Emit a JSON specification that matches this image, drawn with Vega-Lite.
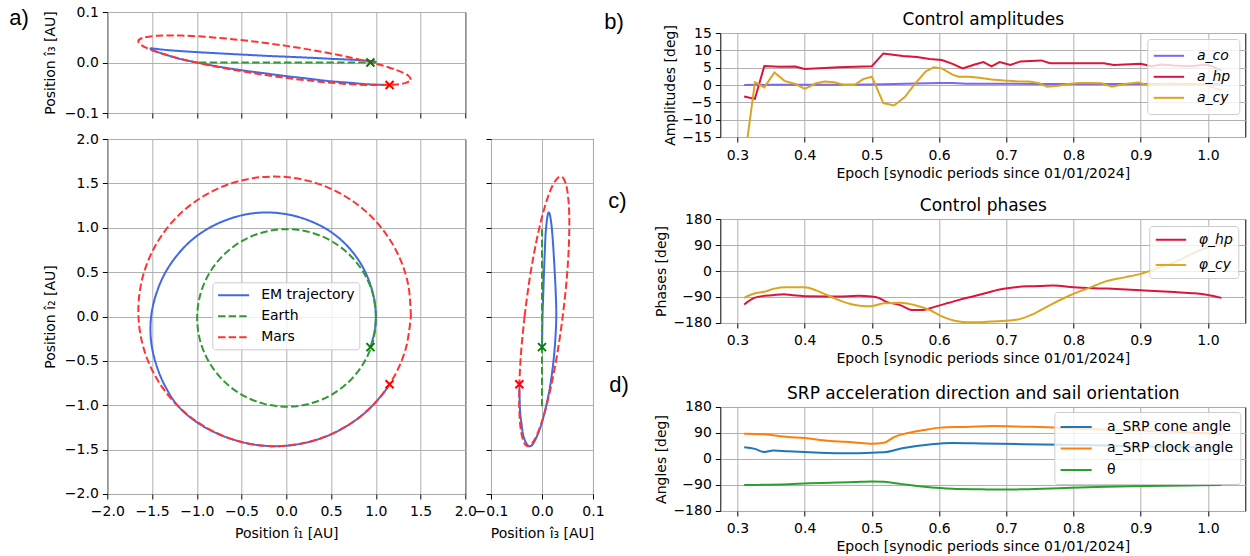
{
"$schema":"https://vega.github.io/schema/vega-lite/v6.json",
"padding":{"left":9.3,"top":4,"right":2,"bottom":2},
"title":{"text":"a)","dx":-98,"dy":29},
"datasets":{
"orb":[
{"b":"EM trajectory","i":0,"x":0.940,"y":-0.342,"z":0},
{"b":"EM trajectory","i":1,"x":0.985,"y":-0.174,"z":0.0005},
{"b":"EM trajectory","i":2,"x":1.000,"y":0.000,"z":0.001},
{"b":"EM trajectory","i":3,"x":0.986,"y":0.174,"z":0.002},
{"b":"EM trajectory","i":4,"x":0.944,"y":0.344,"z":0.003},
{"b":"EM trajectory","i":5,"x":0.879,"y":0.508,"z":0.004},
{"b":"EM trajectory","i":6,"x":0.789,"y":0.662,"z":0.005},
{"b":"EM trajectory","i":7,"x":0.674,"y":0.803,"z":0.006},
{"b":"EM trajectory","i":8,"x":0.535,"y":0.927,"z":0.007},
{"b":"EM trajectory","i":9,"x":0.374,"y":1.027,"z":0.0085},
{"b":"EM trajectory","i":10,"x":0.194,"y":1.103,"z":0.010},
{"b":"EM trajectory","i":11,"x":0.000,"y":1.153,"z":0.0115},
{"b":"EM trajectory","i":12,"x":-0.207,"y":1.172,"z":0.013},
{"b":"EM trajectory","i":13,"x":-0.421,"y":1.156,"z":0.015},
{"b":"EM trajectory","i":14,"x":-0.635,"y":1.100,"z":0.017},
{"b":"EM trajectory","i":15,"x":-0.845,"y":1.007,"z":0.019},
{"b":"EM trajectory","i":16,"x":-1.042,"y":0.874,"z":0.021},
{"b":"EM trajectory","i":17,"x":-1.212,"y":0.700,"z":0.023},
{"b":"EM trajectory","i":18,"x":-1.353,"y":0.492,"z":0.025},
{"b":"EM trajectory","i":19,"x":-1.453,"y":0.256,"z":0.027},
{"b":"EM trajectory","i":20,"x":-1.510,"y":0.000,"z":0.028},
{"b":"EM trajectory","i":21,"x":-1.512,"y":-0.267,"z":0.026},
{"b":"EM trajectory","i":22,"x":-1.457,"y":-0.530,"z":0.022},
{"b":"EM trajectory","i":23,"x":-1.355,"y":-0.783,"z":0.016},
{"b":"EM trajectory","i":24,"x":-1.207,"y":-1.012,"z":0.008},
{"b":"EM trajectory","i":25,"x":-1.000,"y":-1.191,"z":0.000},
{"b":"EM trajectory","i":26,"x":-0.763,"y":-1.322,"z":-0.008},
{"b":"EM trajectory","i":27,"x":-0.513,"y":-1.410,"z":-0.015},
{"b":"EM trajectory","i":28,"x":-0.257,"y":-1.456,"z":-0.021},
{"b":"EM trajectory","i":29,"x":0.000,"y":-1.456,"z":-0.027},
{"b":"EM trajectory","i":30,"x":0.249,"y":-1.414,"z":-0.032},
{"b":"EM trajectory","i":31,"x":0.486,"y":-1.334,"z":-0.037},
{"b":"EM trajectory","i":32,"x":0.703,"y":-1.217,"z":-0.040},
{"b":"EM trajectory","i":33,"x":0.897,"y":-1.069,"z":-0.043},
{"b":"EM trajectory","i":34,"x":1.062,"y":-0.892,"z":-0.044},
{"b":"EM trajectory","i":35,"x":1.154,"y":-0.764,"z":-0.0444},
{"b":"Earth","i":0,"x":1.004,"y":-0.016,"z":0},
{"b":"Earth","i":1,"x":0.970,"y":0.243,"z":0},
{"b":"Earth","i":2,"x":0.870,"y":0.484,"z":0},
{"b":"Earth","i":3,"x":0.711,"y":0.691,"z":0},
{"b":"Earth","i":4,"x":0.504,"y":0.850,"z":0},
{"b":"Earth","i":5,"x":0.263,"y":0.950,"z":0},
{"b":"Earth","i":6,"x":0.004,"y":0.984,"z":0},
{"b":"Earth","i":7,"x":-0.255,"y":0.950,"z":0},
{"b":"Earth","i":8,"x":-0.496,"y":0.850,"z":0},
{"b":"Earth","i":9,"x":-0.703,"y":0.691,"z":0},
{"b":"Earth","i":10,"x":-0.862,"y":0.484,"z":0},
{"b":"Earth","i":11,"x":-0.962,"y":0.243,"z":0},
{"b":"Earth","i":12,"x":-0.996,"y":-0.016,"z":0},
{"b":"Earth","i":13,"x":-0.962,"y":-0.275,"z":0},
{"b":"Earth","i":14,"x":-0.862,"y":-0.516,"z":0},
{"b":"Earth","i":15,"x":-0.703,"y":-0.723,"z":0},
{"b":"Earth","i":16,"x":-0.496,"y":-0.882,"z":0},
{"b":"Earth","i":17,"x":-0.255,"y":-0.982,"z":0},
{"b":"Earth","i":18,"x":0.004,"y":-1.016,"z":0},
{"b":"Earth","i":19,"x":0.263,"y":-0.982,"z":0},
{"b":"Earth","i":20,"x":0.504,"y":-0.882,"z":0},
{"b":"Earth","i":21,"x":0.711,"y":-0.723,"z":0},
{"b":"Earth","i":22,"x":0.870,"y":-0.516,"z":0},
{"b":"Earth","i":23,"x":0.970,"y":-0.275,"z":0},
{"b":"Earth","i":24,"x":1.004,"y":-0.016,"z":0},
{"b":"Mars","i":0,"x":1.392,"y":0.000,"z":-0.0342},
{"b":"Mars","i":1,"x":1.361,"y":0.365,"z":-0.0258},
{"b":"Mars","i":2,"x":1.241,"y":0.716,"z":-0.0155},
{"b":"Mars","i":3,"x":1.034,"y":1.034,"z":-0.0038},
{"b":"Mars","i":4,"x":0.748,"y":1.296,"z":0.0087},
{"b":"Mars","i":5,"x":0.397,"y":1.481,"z":0.0212},
{"b":"Mars","i":6,"x":0.000,"y":1.571,"z":0.0329},
{"b":"Mars","i":7,"x":-0.416,"y":1.551,"z":0.0427},
{"b":"Mars","i":8,"x":-0.817,"y":1.416,"z":0.0497},
{"b":"Mars","i":9,"x":-1.171,"y":1.171,"z":0.0533},
{"b":"Mars","i":10,"x":-1.443,"y":0.833,"z":0.0529},
{"b":"Mars","i":11,"x":-1.608,"y":0.431,"z":0.0486},
{"b":"Mars","i":12,"x":-1.652,"y":0.000,"z":0.0406},
{"b":"Mars","i":13,"x":-1.574,"y":-0.422,"z":0.0299},
{"b":"Mars","i":14,"x":-1.385,"y":-0.799,"z":0.0173},
{"b":"Mars","i":15,"x":-1.105,"y":-1.105,"z":0.0041},
{"b":"Mars","i":16,"x":-0.763,"y":-1.321,"z":-0.0089},
{"b":"Mars","i":17,"x":-0.385,"y":-1.439,"z":-0.0206},
{"b":"Mars","i":18,"x":0.000,"y":-1.456,"z":-0.0305},
{"b":"Mars","i":19,"x":0.369,"y":-1.378,"z":-0.0379},
{"b":"Mars","i":20,"x":0.702,"y":-1.217,"z":-0.0428},
{"b":"Mars","i":21,"x":0.983,"y":-0.983,"z":-0.0447},
{"b":"Mars","i":22,"x":1.197,"y":-0.691,"z":-0.0439},
{"b":"Mars","i":23,"x":1.336,"y":-0.358,"z":-0.0404},
{"b":"Mars","i":24,"x":1.392,"y":0.000,"z":-0.0342}
],
"mk":[
{"b":"Earth","x":0.94,"y":-0.345,"z":0},
{"b":"Mars","x":1.154,"y":-0.764,"z":-0.0444}
],
"amp":[
{"s":"a_co","t":0.31,"v":0},{"s":"a_co","t":0.35,"v":0.05},{"s":"a_co","t":0.4,"v":0.1},{"s":"a_co","t":0.45,"v":0.1},{"s":"a_co","t":0.5,"v":0.15},{"s":"a_co","t":0.55,"v":0.35},{"s":"a_co","t":0.6,"v":0.6},{"s":"a_co","t":0.62,"v":0.55},{"s":"a_co","t":0.64,"v":0.35},{"s":"a_co","t":0.7,"v":0.35},{"s":"a_co","t":0.75,"v":0.3},{"s":"a_co","t":0.8,"v":0.3},{"s":"a_co","t":0.85,"v":0.3},{"s":"a_co","t":0.9,"v":0.3},{"s":"a_co","t":0.95,"v":0.3},{"s":"a_co","t":1.0,"v":0.25},{"s":"a_co","t":1.02,"v":0.2},
{"s":"a_hp","t":0.31,"v":-3.3},{"s":"a_hp","t":0.326,"v":-4.0},{"s":"a_hp","t":0.34,"v":5.5},{"s":"a_hp","t":0.362,"v":5.3},{"s":"a_hp","t":0.386,"v":5.35},{"s":"a_hp","t":0.4,"v":4.6},{"s":"a_hp","t":0.451,"v":5.1},{"s":"a_hp","t":0.5,"v":5.4},{"s":"a_hp","t":0.517,"v":9.1},{"s":"a_hp","t":0.546,"v":8.4},{"s":"a_hp","t":0.567,"v":8.1},{"s":"a_hp","t":0.586,"v":7.5},{"s":"a_hp","t":0.604,"v":7.2},{"s":"a_hp","t":0.62,"v":6.1},{"s":"a_hp","t":0.635,"v":4.8},{"s":"a_hp","t":0.653,"v":5.9},{"s":"a_hp","t":0.666,"v":6.6},{"s":"a_hp","t":0.678,"v":5.4},{"s":"a_hp","t":0.69,"v":6.6},{"s":"a_hp","t":0.706,"v":5.8},{"s":"a_hp","t":0.721,"v":6.8},{"s":"a_hp","t":0.752,"v":7.1},{"s":"a_hp","t":0.765,"v":6.3},{"s":"a_hp","t":0.789,"v":6.3},{"s":"a_hp","t":0.845,"v":6.3},{"s":"a_hp","t":0.86,"v":5.8},{"s":"a_hp","t":0.9,"v":6.1},{"s":"a_hp","t":0.916,"v":5.4},{"s":"a_hp","t":0.931,"v":5.9},{"s":"a_hp","t":0.95,"v":5.6},{"s":"a_hp","t":0.974,"v":5.4},{"s":"a_hp","t":0.999,"v":5.9},{"s":"a_hp","t":1.02,"v":4.3},
{"s":"a_cy","t":0.31,"v":-22.5},{"s":"a_cy","t":0.326,"v":0.8},{"s":"a_cy","t":0.34,"v":-0.7},{"s":"a_cy","t":0.355,"v":3.6},{"s":"a_cy","t":0.37,"v":1.2},{"s":"a_cy","t":0.386,"v":0.3},{"s":"a_cy","t":0.4,"v":-1.1},{"s":"a_cy","t":0.417,"v":0.5},{"s":"a_cy","t":0.43,"v":1.0},{"s":"a_cy","t":0.444,"v":0.8},{"s":"a_cy","t":0.459,"v":0.0},{"s":"a_cy","t":0.474,"v":0.0},{"s":"a_cy","t":0.487,"v":1.7},{"s":"a_cy","t":0.5,"v":2.4},{"s":"a_cy","t":0.517,"v":-5.2},{"s":"a_cy","t":0.533,"v":-5.9},{"s":"a_cy","t":0.549,"v":-3.5},{"s":"a_cy","t":0.564,"v":0.3},{"s":"a_cy","t":0.58,"v":3.9},{"s":"a_cy","t":0.592,"v":5.1},{"s":"a_cy","t":0.604,"v":4.8},{"s":"a_cy","t":0.62,"v":3.0},{"s":"a_cy","t":0.629,"v":2.4},{"s":"a_cy","t":0.644,"v":2.4},{"s":"a_cy","t":0.66,"v":2.1},{"s":"a_cy","t":0.678,"v":1.6},{"s":"a_cy","t":0.697,"v":1.3},{"s":"a_cy","t":0.715,"v":1.1},{"s":"a_cy","t":0.734,"v":1.0},{"s":"a_cy","t":0.749,"v":0.5},{"s":"a_cy","t":0.761,"v":-0.5},{"s":"a_cy","t":0.777,"v":-0.2},{"s":"a_cy","t":0.792,"v":0.3},{"s":"a_cy","t":0.808,"v":0.6},{"s":"a_cy","t":0.826,"v":0.6},{"s":"a_cy","t":0.842,"v":0.5},{"s":"a_cy","t":0.857,"v":-0.5},{"s":"a_cy","t":0.876,"v":0.3},{"s":"a_cy","t":0.897,"v":0.7},{"s":"a_cy","t":0.912,"v":-0.2},{"s":"a_cy","t":0.931,"v":0.3},{"s":"a_cy","t":0.95,"v":0.5},{"s":"a_cy","t":0.968,"v":-0.1},{"s":"a_cy","t":0.993,"v":0.3},{"s":"a_cy","t":1.02,"v":-1.5}
],
"ph":[
{"s":"φ_hp","t":0.31,"v":-116},{"s":"φ_hp","t":0.325,"v":-93},{"s":"φ_hp","t":0.337,"v":-87},{"s":"φ_hp","t":0.352,"v":-84},{"s":"φ_hp","t":0.369,"v":-80.5},{"s":"φ_hp","t":0.382,"v":-84},{"s":"φ_hp","t":0.4,"v":-87},{"s":"φ_hp","t":0.45,"v":-88},{"s":"φ_hp","t":0.48,"v":-86},{"s":"φ_hp","t":0.499,"v":-88},{"s":"φ_hp","t":0.51,"v":-93},{"s":"φ_hp","t":0.52,"v":-105},{"s":"φ_hp","t":0.542,"v":-118},{"s":"φ_hp","t":0.561,"v":-135},{"s":"φ_hp","t":0.576,"v":-135},{"s":"φ_hp","t":0.592,"v":-125},{"s":"φ_hp","t":0.61,"v":-113},{"s":"φ_hp","t":0.63,"v":-100},{"s":"φ_hp","t":0.65,"v":-88},{"s":"φ_hp","t":0.67,"v":-76},{"s":"φ_hp","t":0.69,"v":-64},{"s":"φ_hp","t":0.71,"v":-57},{"s":"φ_hp","t":0.73,"v":-53},{"s":"φ_hp","t":0.75,"v":-52},{"s":"φ_hp","t":0.77,"v":-50},{"s":"φ_hp","t":0.8,"v":-56},{"s":"φ_hp","t":0.85,"v":-61},{"s":"φ_hp","t":0.9,"v":-67},{"s":"φ_hp","t":0.95,"v":-73},{"s":"φ_hp","t":0.98,"v":-77},{"s":"φ_hp","t":1.0,"v":-83},{"s":"φ_hp","t":1.02,"v":-93},
{"s":"φ_cy","t":0.31,"v":-93},{"s":"φ_cy","t":0.325,"v":-78},{"s":"φ_cy","t":0.34,"v":-72},{"s":"φ_cy","t":0.355,"v":-61},{"s":"φ_cy","t":0.372,"v":-56},{"s":"φ_cy","t":0.4,"v":-56},{"s":"φ_cy","t":0.417,"v":-67},{"s":"φ_cy","t":0.434,"v":-84},{"s":"φ_cy","t":0.451,"v":-101},{"s":"φ_cy","t":0.471,"v":-116},{"s":"φ_cy","t":0.491,"v":-122},{"s":"φ_cy","t":0.503,"v":-120},{"s":"φ_cy","t":0.518,"v":-112},{"s":"φ_cy","t":0.542,"v":-110},{"s":"φ_cy","t":0.567,"v":-120},{"s":"φ_cy","t":0.586,"v":-135},{"s":"φ_cy","t":0.604,"v":-157},{"s":"φ_cy","t":0.623,"v":-172},{"s":"φ_cy","t":0.641,"v":-177},{"s":"φ_cy","t":0.66,"v":-177},{"s":"φ_cy","t":0.684,"v":-174},{"s":"φ_cy","t":0.715,"v":-169},{"s":"φ_cy","t":0.74,"v":-149},{"s":"φ_cy","t":0.765,"v":-118},{"s":"φ_cy","t":0.795,"v":-84},{"s":"φ_cy","t":0.826,"v":-56},{"s":"φ_cy","t":0.848,"v":-36},{"s":"φ_cy","t":0.876,"v":-22},{"s":"φ_cy","t":0.9,"v":-10},{"s":"φ_cy","t":0.925,"v":10},{"s":"φ_cy","t":0.95,"v":30},{"s":"φ_cy","t":0.974,"v":57},{"s":"φ_cy","t":1.0,"v":82},{"s":"φ_cy","t":1.02,"v":92}
],
"ang":[
{"s":"a_SRP cone angle","t":0.31,"v":41},{"s":"a_SRP cone angle","t":0.326,"v":35},{"s":"a_SRP cone angle","t":0.34,"v":24},{"s":"a_SRP cone angle","t":0.353,"v":29},{"s":"a_SRP cone angle","t":0.375,"v":26.5},{"s":"a_SRP cone angle","t":0.4,"v":24},{"s":"a_SRP cone angle","t":0.434,"v":21},{"s":"a_SRP cone angle","t":0.474,"v":19.5},{"s":"a_SRP cone angle","t":0.5,"v":22},{"s":"a_SRP cone angle","t":0.518,"v":23},{"s":"a_SRP cone angle","t":0.545,"v":37},{"s":"a_SRP cone angle","t":0.589,"v":51},{"s":"a_SRP cone angle","t":0.62,"v":55},{"s":"a_SRP cone angle","t":0.663,"v":53.7},{"s":"a_SRP cone angle","t":0.725,"v":51.4},{"s":"a_SRP cone angle","t":0.786,"v":49},{"s":"a_SRP cone angle","t":0.848,"v":47},{"s":"a_SRP cone angle","t":0.91,"v":43},{"s":"a_SRP cone angle","t":0.971,"v":41},{"s":"a_SRP cone angle","t":1.02,"v":40},
{"s":"a_SRP clock angle","t":0.31,"v":87.7},{"s":"a_SRP clock angle","t":0.34,"v":85.4},{"s":"a_SRP clock angle","t":0.375,"v":76},{"s":"a_SRP clock angle","t":0.4,"v":72.5},{"s":"a_SRP clock angle","t":0.434,"v":63},{"s":"a_SRP clock angle","t":0.474,"v":57.5},{"s":"a_SRP clock angle","t":0.5,"v":53},{"s":"a_SRP clock angle","t":0.518,"v":56},{"s":"a_SRP clock angle","t":0.533,"v":76},{"s":"a_SRP clock angle","t":0.552,"v":89},{"s":"a_SRP clock angle","t":0.577,"v":100},{"s":"a_SRP clock angle","t":0.602,"v":108.6},{"s":"a_SRP clock angle","t":0.633,"v":111},{"s":"a_SRP clock angle","t":0.682,"v":114},{"s":"a_SRP clock angle","t":0.725,"v":112},{"s":"a_SRP clock angle","t":0.762,"v":110},{"s":"a_SRP clock angle","t":0.805,"v":106},{"s":"a_SRP clock angle","t":0.848,"v":101},{"s":"a_SRP clock angle","t":0.91,"v":97},{"s":"a_SRP clock angle","t":0.971,"v":93},{"s":"a_SRP clock angle","t":1.02,"v":87},
{"s":"θ","t":0.31,"v":-90},{"s":"θ","t":0.375,"v":-87},{"s":"θ","t":0.4,"v":-84.5},{"s":"θ","t":0.474,"v":-80},{"s":"θ","t":0.5,"v":-77.5},{"s":"θ","t":0.518,"v":-78.5},{"s":"θ","t":0.545,"v":-87},{"s":"θ","t":0.589,"v":-99},{"s":"θ","t":0.62,"v":-103},{"s":"θ","t":0.663,"v":-105},{"s":"θ","t":0.694,"v":-106},{"s":"θ","t":0.725,"v":-105},{"s":"θ","t":0.786,"v":-100.6},{"s":"θ","t":0.848,"v":-96},{"s":"θ","t":0.91,"v":-93.7},{"s":"θ","t":0.971,"v":-91.4},{"s":"θ","t":1.02,"v":-90}
]
},
"spacing":-2,
"hconcat":[
{"spacing":10,
 "resolve":{"scale":{"color":"independent","strokeDash":"independent","stroke":"independent"},"legend":{"color":"independent","strokeDash":"independent","stroke":"independent"}},
 "vconcat":[
 {"width":358,"height":101,"data":{"name":"orb"},
  "layer":[
   {"transform":[{"filter":"datum.b != 'Earth' || datum.i <= 12"}],
    "mark":{"type":"line","strokeWidth":2,"interpolate":"cardinal","clip":true},
    "encoding":{
     "x":{"field":"x","type":"quantitative","scale":{"domain":[-2,2]},"axis":{"values":[-2,-1.5,-1,-0.5,0,0.5,1,1.5,2],"labels":false,"title":null}},
     "y":{"field":"z","type":"quantitative","scale":{"domain":[-0.1,0.1]},"axis":{"values":[-0.1,0,0.1],"format":".1f","title":"Position î₃ [AU]","titlePadding":7}},
     "color":{"field":"b","type":"nominal","scale":{"domain":["EM trajectory","Earth","Mars"],"range":["#4169e1","#339933","#ff3333"]},"legend":null},
     "strokeDash":{"field":"b","type":"nominal","scale":{"domain":["EM trajectory","Earth","Mars"],"range":[[1,0],[7.4,3.2],[7.4,3.2]]},"legend":null},
     "order":{"field":"i","type":"quantitative"}}},
   {"data":{"name":"mk"},"mark":{"type":"point","shape":"M-1,-1L1,1M-1,1L1,-1","size":64,"strokeWidth":2,"filled":false,"opacity":1},
    "encoding":{"x":{"field":"x","type":"quantitative"},"y":{"field":"z","type":"quantitative"},
     "stroke":{"field":"b","type":"nominal","scale":{"domain":["Earth","Mars"],"range":["#008000","#ff0000"]},"legend":null}}}
  ]},
 {"spacing":25.7,"bounds":"flush",
  "resolve":{"scale":{"color":"independent","strokeDash":"independent","stroke":"independent"},"legend":{"color":"independent","strokeDash":"independent","stroke":"independent"}},
  "hconcat":[
  {"width":358,"height":355,"data":{"name":"orb"},
   "layer":[
    {"mark":{"type":"line","strokeWidth":2,"interpolate":"cardinal","clip":true},
     "encoding":{
      "x":{"field":"x","type":"quantitative","scale":{"domain":[-2,2]},"axis":{"values":[-2,-1.5,-1,-0.5,0,0.5,1,1.5,2],"format":".1f","title":"Position î₁ [AU]","titlePadding":8}},
      "y":{"field":"y","type":"quantitative","scale":{"domain":[-2,2]},"axis":{"values":[-2,-1.5,-1,-0.5,0,0.5,1,1.5,2],"format":".1f","title":"Position î₂ [AU]","titlePadding":7}},
      "color":{"field":"b","type":"nominal","scale":{"domain":["EM trajectory","Earth","Mars"],"range":["#4169e1","#339933","#ff3333"]},
       "legend":{"orient":"none","legendX":105,"legendY":143.3,"title":null,"padding":4.5,"symbolType":"M-1.02,0L3.37,0","symbolSize":200,"symbolStrokeWidth":2,"rowPadding":5,"labelOffset":27.4,"fillColor":"rgba(255,255,255,0.8)","strokeColor":"#cccccc","cornerRadius":3}},
      "strokeDash":{"field":"b","type":"nominal","scale":{"domain":["EM trajectory","Earth","Mars"],"range":[[1,0],[7.4,3.2],[7.4,3.2]]},
       "legend":{"orient":"none","legendX":105,"legendY":143.3,"title":null,"padding":4.5,"symbolType":"M-1.02,0L3.37,0","symbolSize":200,"symbolStrokeWidth":2,"rowPadding":5,"labelOffset":27.4,"fillColor":"rgba(255,255,255,0.8)","strokeColor":"#cccccc","cornerRadius":3}},
      "order":{"field":"i","type":"quantitative"}}},
    {"data":{"name":"mk"},"mark":{"type":"point","shape":"M-1,-1L1,1M-1,1L1,-1","size":64,"strokeWidth":2,"filled":false,"opacity":1},
     "encoding":{"x":{"field":"x","type":"quantitative"},"y":{"field":"y","type":"quantitative"},
      "stroke":{"field":"b","type":"nominal","scale":{"domain":["Earth","Mars"],"range":["#008000","#ff0000"]},"legend":null}}}
   ]},
  {"width":102,"height":355,"data":{"name":"orb"},
   "layer":[
    {"transform":[{"filter":"datum.b != 'Earth' || (datum.i >= 6 && datum.i <= 18)"}],
     "mark":{"type":"line","strokeWidth":2,"interpolate":"cardinal","clip":true},
     "encoding":{
      "x":{"field":"z","type":"quantitative","scale":{"domain":[-0.1,0.1]},"axis":{"values":[-0.1,0,0.1],"format":".1f","title":"Position î₃ [AU]","titlePadding":8}},
      "y":{"field":"y","type":"quantitative","scale":{"domain":[-2,2]},"axis":{"values":[-2,-1.5,-1,-0.5,0,0.5,1,1.5,2],"labels":false,"title":null}},
      "color":{"field":"b","type":"nominal","scale":{"domain":["EM trajectory","Earth","Mars"],"range":["#4169e1","#339933","#ff3333"]},"legend":null},
      "strokeDash":{"field":"b","type":"nominal","scale":{"domain":["EM trajectory","Earth","Mars"],"range":[[1,0],[7.4,3.2],[7.4,3.2]]},"legend":null},
      "order":{"field":"i","type":"quantitative"}}},
    {"data":{"name":"mk"},"mark":{"type":"point","shape":"M-1,-1L1,1M-1,1L1,-1","size":64,"strokeWidth":2,"filled":false,"opacity":1},
     "encoding":{"x":{"field":"z","type":"quantitative"},"y":{"field":"y","type":"quantitative"},
      "stroke":{"field":"b","type":"nominal","scale":{"domain":["Earth","Mars"],"range":["#008000","#ff0000"]},"legend":null}}}
   ]}
  ]}
 ]},
{"spacing":0,"bounds":"flush",
 "resolve":{"scale":{"color":"independent","strokeDash":"independent","stroke":"independent"},"legend":{"color":"independent","strokeDash":"independent","stroke":"independent"}},
 "vconcat":[
 {"width":525,"height":21,"data":{"values":[]},"mark":"point","view":{"stroke":null}},
 {"width":525,"height":104,"data":{"name":"amp"},
  "title":{"text":"b)","dx":-116,"dy":27.5},
  "layer":[
   {"mark":{"type":"line","strokeWidth":2,"clip":true},
    "encoding":{
     "x":{"field":"t","type":"quantitative","scale":{"domain":[0.2745,1.0555]},"axis":{"values":[0.3,0.4,0.5,0.6,0.7,0.8,0.9,1.0],"format":".1f","title":"Epoch [synodic periods since 01/01/2024]"}},
     "y":{"field":"v","type":"quantitative","scale":{"domain":[-15,15]},"axis":{"values":[-15,-10,-5,0,5,10,15],"title":"Amplitudes [deg]"}},
     "color":{"field":"s","type":"nominal","scale":{"domain":["a_co","a_hp","a_cy"],"range":["#7b68ee","#dc143c","#daa520"]},
      "legend":{"orient":"top-right","offset":6,"title":null,"padding":8.3,"symbolType":"M-1.47,0L2.83,0","symbolSize":200,"symbolStrokeWidth":2,"rowPadding":5,"labelOffset":24.3,"labelFontStyle":"italic","fillColor":"rgba(255,255,255,0.8)","strokeColor":"#cccccc","cornerRadius":3}}}},
   {"data":{"values":[{"t":0.5}]},"mark":{"type":"rule","opacity":0},
    "encoding":{"x":{"field":"t","type":"quantitative","scale":{"domain":[0.2745,1.0555]},"axis":{"orient":"top","labels":false,"ticks":false,"grid":false,"domain":false,"title":"Control amplitudes","titleFontSize":17,"titleY":-8.5,"titleBaseline":"alphabetic"}}}}
  ],
  "resolve":{"axis":{"x":"independent"}}},
 {"width":525,"height":82,"data":{"values":[]},"mark":"point","view":{"stroke":null}},
 {"width":525,"height":104,"data":{"name":"ph"},
  "title":{"text":"c)","dx":-112,"dy":20.5},
  "layer":[
   {"mark":{"type":"line","strokeWidth":2,"interpolate":"monotone","clip":true},
    "encoding":{
     "x":{"field":"t","type":"quantitative","scale":{"domain":[0.2745,1.0555]},"axis":{"values":[0.3,0.4,0.5,0.6,0.7,0.8,0.9,1.0],"format":".1f","title":"Epoch [synodic periods since 01/01/2024]"}},
     "y":{"field":"v","type":"quantitative","scale":{"domain":[-180,180]},"axis":{"values":[-180,-90,0,90,180],"title":"Phases [deg]"}},
     "color":{"field":"s","type":"nominal","scale":{"domain":["φ_hp","φ_cy"],"range":["#dc143c","#daa520"]},
      "legend":{"orient":"top-right","offset":7,"title":null,"padding":5.25,"symbolType":"M-1.03,0L3.27,0","symbolSize":200,"symbolStrokeWidth":2,"rowPadding":9.2,"labelOffset":27.3,"labelFontStyle":"italic","fillColor":"rgba(255,255,255,0.8)","strokeColor":"#cccccc","cornerRadius":3}}}},
   {"data":{"values":[{"t":0.5}]},"mark":{"type":"rule","opacity":0},
    "encoding":{"x":{"field":"t","type":"quantitative","scale":{"domain":[0.2745,1.0555]},"axis":{"orient":"top","labels":false,"ticks":false,"grid":false,"domain":false,"title":"Control phases","titleFontSize":17,"titleY":-8.5,"titleBaseline":"alphabetic"}}}}
  ],
  "resolve":{"axis":{"x":"independent"}}},
 {"width":525,"height":84,"data":{"values":[]},"mark":"point","view":{"stroke":null}},
 {"width":525,"height":104,"data":{"name":"ang"},
  "title":{"text":"d)","dx":-111,"dy":16.5},
  "layer":[
   {"mark":{"type":"line","strokeWidth":2,"interpolate":"monotone","clip":true},
    "encoding":{
     "x":{"field":"t","type":"quantitative","scale":{"domain":[0.2745,1.0555]},"axis":{"values":[0.3,0.4,0.5,0.6,0.7,0.8,0.9,1.0],"format":".1f","title":"Epoch [synodic periods since 01/01/2024]"}},
     "y":{"field":"v","type":"quantitative","scale":{"domain":[-180,180]},"axis":{"values":[-180,-90,0,90,180],"title":"Angles [deg]"}},
     "color":{"field":"s","type":"nominal","scale":{"domain":["a_SRP cone angle","a_SRP clock angle","θ"],"range":["#1f77b4","#ff7f0e","#2ca02c"]},
      "legend":{"orient":"top-right","offset":5,"title":null,"padding":6.5,"symbolType":"M-1.23,0L3.17,0","symbolSize":200,"symbolStrokeWidth":2,"rowPadding":5.5,"labelOffset":29.1,"fillColor":"rgba(255,255,255,0.8)","strokeColor":"#cccccc","cornerRadius":3}}}},
   {"data":{"values":[{"t":0.5}]},"mark":{"type":"rule","opacity":0},
    "encoding":{"x":{"field":"t","type":"quantitative","scale":{"domain":[0.2745,1.0555]},"axis":{"orient":"top","labels":false,"ticks":false,"grid":false,"domain":false,"title":"SRP acceleration direction and sail orientation","titleFontSize":17,"titleY":-8.5,"titleBaseline":"alphabetic"}}}}
  ],
  "resolve":{"axis":{"x":"independent"}}}
 ]}
],
"resolve":{"scale":{"color":"independent","strokeDash":"independent","stroke":"independent"},"legend":{"color":"independent","strokeDash":"independent","stroke":"independent"}},
"config":{
 "font":"DejaVu Sans",
 "background":"white",
 "view":{"stroke":"black","strokeWidth":1},
 "axis":{"domain":false,"tickColor":"black","tickSize":5,"tickWidth":1,"labelFont":"DejaVu Sans","labelFontSize":14,"labelColor":"black","labelPadding":4,"labelFlush":false,"labelOverlap":false,"labelBound":false,"titleFont":"DejaVu Sans","titleFontSize":14,"titleFontWeight":"normal","titleColor":"black","gridColor":"#b0b0b0","gridWidth":1,"gridOpacity":1},
 "axisX":{"labelPadding":6},
 "legend":{"labelFont":"DejaVu Sans","labelFontSize":14,"labelColor":"black"},
 "title":{"font":"Liberation Sans","fontSize":22,"fontWeight":"normal","color":"black","anchor":"start","frame":"group","offset":0,"baseline":"alphabetic"}
}
}
